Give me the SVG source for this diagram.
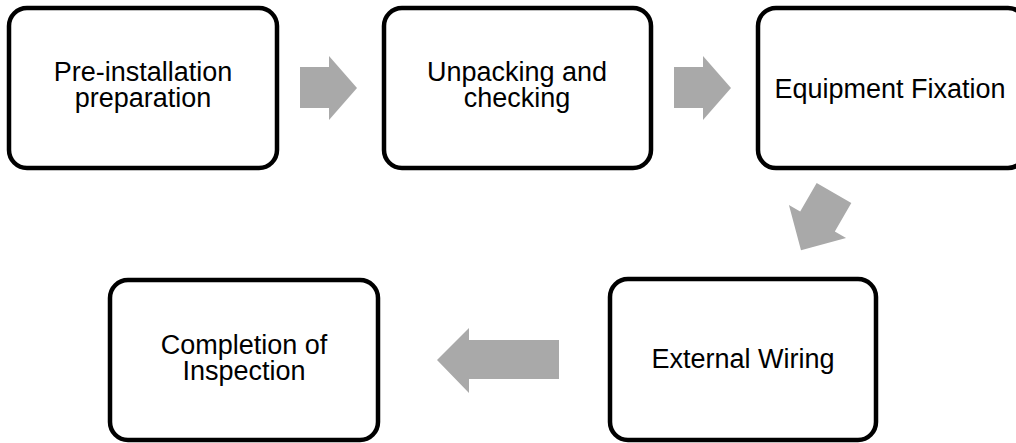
<svg xmlns="http://www.w3.org/2000/svg" width="1016" height="443" viewBox="0 0 1016 443">
<style>
.box{fill:#fff;stroke:#000;stroke-width:4.5}
.lbl{font-family:"Liberation Sans",Arial,sans-serif;font-size:27px;fill:#000;text-anchor:middle}
.arr{fill:#a9a9a9}
</style>
<rect width="1016" height="443" fill="#fff"/>
<g id="connectors">
<path class="arr" d="M300,67 L329,67 L329,56 L357,88 L329,120 L329,108 L300,108 Z"/>
<path class="arr" d="M674,67 L703,67 L703,56 L731,88 L703,120 L703,108 L674,108 Z"/>
<path class="arr" transform="translate(834,193) rotate(120)" d="M0,-20 L33,-20 L33,-33 L66,0 L33,33 L33,20 L0,20 Z"/>
<path class="arr" d="M559,340 L469,340 L469,328 L437,360 L469,393 L469,379 L559,379 Z"/>
</g>
<g id="node1">
<rect class="box" x="9" y="8" width="268" height="160" rx="18"/>
<text class="lbl" x="143" y="81">Pre-installation</text>
<text class="lbl" x="143" y="107">preparation</text>
</g>
<g id="node2">
<rect class="box" x="384" y="8" width="267" height="160" rx="18"/>
<text class="lbl" x="517" y="81">Unpacking and</text>
<text class="lbl" x="517" y="107">checking</text>
</g>
<g id="node3">
<rect class="box" x="758" y="8" width="268" height="160" rx="18"/>
<text class="lbl" x="890" y="98">Equipment Fixation</text>
</g>
<g id="node4">
<rect class="box" x="610" y="279" width="266" height="161" rx="18"/>
<text class="lbl" x="743" y="368">External Wiring</text>
</g>
<g id="node5">
<rect class="box" x="110" y="280" width="268" height="160" rx="18"/>
<text class="lbl" x="244" y="354">Completion of</text>
<text class="lbl" x="244" y="380">Inspection</text>
</g>
</svg>
